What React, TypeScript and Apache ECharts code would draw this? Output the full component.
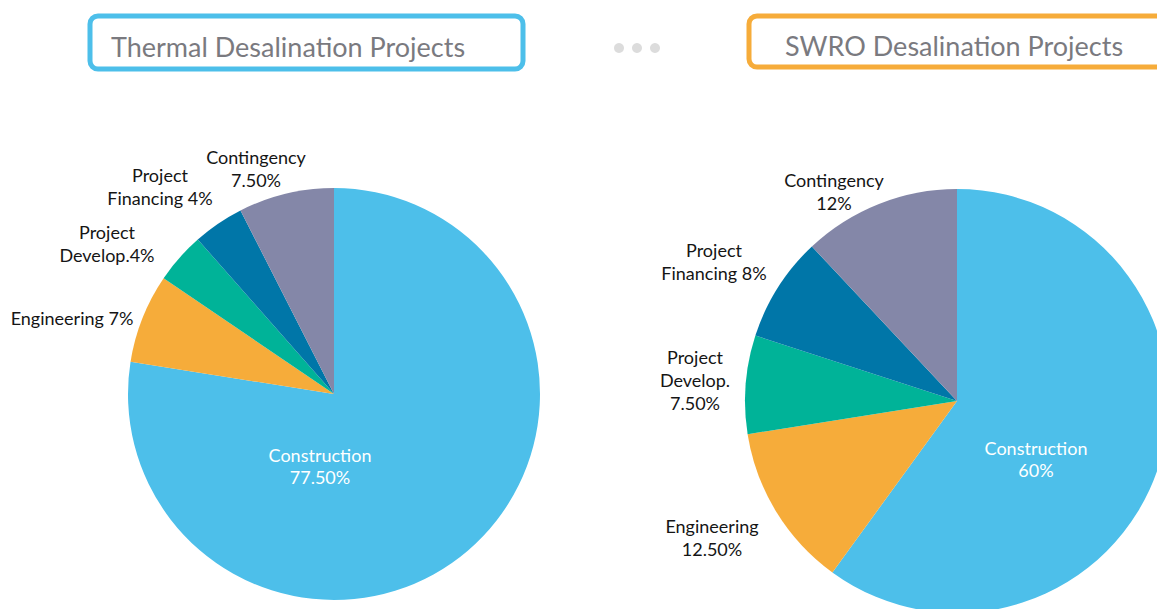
import React, { useEffect, useRef } from "react";
import * as echarts from "echarts";

const categories = ["Construction", "Engineering", "Project Develop.", "Project Financing", "Contingency"];
const thermalValues = [77.5, 7, 4, 4, 7.5];
const swroValues = [60, 12.5, 7.5, 8, 12];
const thermalLabels = ["Construction\n77.50%", "Engineering 7%", "Project\nDevelop.4%", "Project\nFinancing 4%", "Contingency\n7.50%"];
const swroLabels = ["Construction\n60%", "Engineering\n12.50%", "Project\nDevelop.\n7.50%", "Project\nFinancing 8%", "Contingency\n12%"];
const colors = ["#4DBFEA", "#F6AC3A", "#00B398", "#0076A8", "#8487A8"];
const titles = ["Thermal Desalination Projects", "SWRO Desalination Projects"];

const FONT = "Lato, 'Open Sans', sans-serif";

const thermalPos = [[320, 466], [72, 318], [107, 243], [160, 186], [256, 168]];
const swroPos = [[1036, 459], [712, 537], [695, 380], [714, 261], [834, 191]];

function makeSeries(values: number[], labels: string[], center: number[], radius: number, pos: number[][]) {
  return {
    type: "pie",
    center,
    radius,
    startAngle: 90,
    clockwise: true,
    silent: true,
    labelLine: { show: false },
    itemStyle: { borderWidth: 0 },
    data: values.map((v, i) => ({
      value: v,
      name: categories[i],
      itemStyle: { color: colors[i] },
      label: {
        show: true,
        position: "inside",
        overflow: "none",
        formatter: labels[i],
        color: i === 0 ? "#ffffff" : "#151515",
        fontSize: 18,
        fontFamily: FONT,
        lineHeight: i === 0 ? 22 : 23,
        align: "center",
      },
    })),
    labelLayout: (p: any) => ({
      x: pos[p.dataIndex][0],
      y: pos[p.dataIndex][1],
      align: "center",
      verticalAlign: "middle",
      draggable: false,
    }),
  };
}

export default function App() {
  const ref = useRef<HTMLDivElement>(null);
  useEffect(() => {
    const chart = echarts.init(ref.current!, null, { renderer: "svg" });
    chart.setOption({
      animation: false,
      backgroundColor: "#ffffff",
      graphic: [
        { type: "rect", shape: { x: 90, y: 16, width: 433, height: 53, r: 8 }, style: { fill: "#fff", stroke: "#4DBFEA", lineWidth: 5 } },
        { type: "text", x: 111, y: 46, style: { text: titles[0], fontSize: 27, fontFamily: FONT, fill: "#7a7a7f", verticalAlign: "middle" } },
        { type: "rect", shape: { x: 749, y: 16, width: 440, height: 51, r: 8 }, style: { fill: "#fff", stroke: "#F6AC3A", lineWidth: 5 } },
        { type: "text", x: 785, y: 45, style: { text: titles[1], fontSize: 27, fontFamily: FONT, fill: "#7a7a7f", verticalAlign: "middle" } },
        { type: "circle", shape: { cx: 619, cy: 48, r: 5 }, style: { fill: "#dcdcdc" } },
        { type: "circle", shape: { cx: 637, cy: 48, r: 5 }, style: { fill: "#dcdcdc" } },
        { type: "circle", shape: { cx: 655, cy: 48, r: 5 }, style: { fill: "#dcdcdc" } },
      ],
      series: [
        makeSeries(thermalValues, thermalLabels, [334, 394], 206, thermalPos),
        makeSeries(swroValues, swroLabels, [957, 401], 212, swroPos),
      ],
    });
    return () => chart.dispose();
  }, []);
  return <div ref={ref} style={{ position: "fixed", left: 0, top: 0, width: 1157, height: 609 }} />;
}
